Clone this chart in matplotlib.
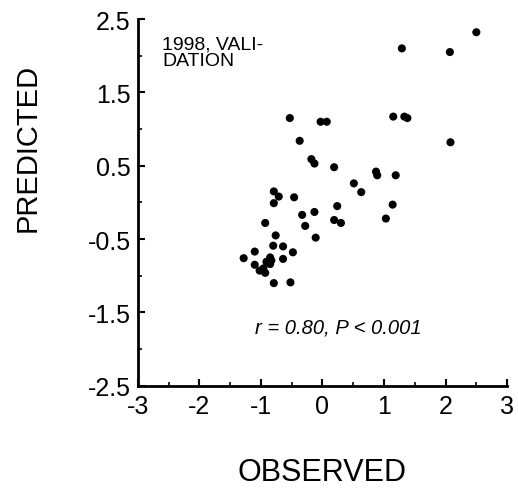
import matplotlib
matplotlib.use('Agg')
import matplotlib.pyplot as plt
from matplotlib.ticker import MultipleLocator

plt.rcParams['font.family'] = ['Liberation Sans', 'DejaVu Sans']

# observed vs predicted values, 1998 validation
observed = [2.50, 1.29, 2.07, -0.53, -0.03, 0.07, 1.15, 1.33, 1.38, -0.37,
            2.08, -0.18, -0.13, 0.19, 0.87, 0.89, 1.19, 0.51, 0.63, -0.79,
            -0.71, -0.46, -0.79, 0.24, 1.14, -0.33, -0.13, 0.19, 0.30, 1.03,
            -0.28, -0.93, -0.11, -0.76, -0.80, -0.64, -0.48, -1.10, -1.28, -0.64,
            -0.85, -0.83, -0.91, -0.85, -1.10, -1.02, -0.96, -0.93, -0.79, -0.52]
predicted = [2.32, 2.10, 2.05, 1.15, 1.10, 1.10, 1.17, 1.17, 1.15, 0.84,
             0.82, 0.59, 0.53, 0.48, 0.42, 0.37, 0.37, 0.26, 0.14, 0.15,
             0.08, 0.07, -0.01, -0.05, -0.03, -0.17, -0.13, -0.24, -0.28, -0.22,
             -0.32, -0.28, -0.48, -0.45, -0.59, -0.60, -0.68, -0.67, -0.76, -0.77,
             -0.75, -0.79, -0.81, -0.84, -0.85, -0.93, -0.90, -0.96, -1.10, -1.09]

xticks = [-3, -2, -1, 0, 1, 2, 3]
yticks = [-2.5, -1.5, -0.5, 0.5, 1.5, 2.5]

fig = plt.figure(figsize=(5.18, 4.89), dpi=100)
ax = fig.add_axes([0.266, 0.209, 0.713, 0.750])

ax.scatter(observed, predicted, s=34, color='black', edgecolors='none', zorder=3)

ax.set_xlim(-3, 3)
ax.set_ylim(-2.5, 2.5)
ax.set_xticks(xticks)
ax.set_yticks(yticks)
ax.set_xticklabels([str(v) for v in xticks])
ax.set_yticklabels([str(v) for v in yticks])
ax.xaxis.set_minor_locator(MultipleLocator(0.5))
ax.yaxis.set_minor_locator(MultipleLocator(0.5))

ax.spines['top'].set_visible(False)
ax.spines['right'].set_visible(False)
ax.spines['left'].set_linewidth(2)
ax.spines['bottom'].set_linewidth(2)
ax.tick_params(which='major', direction='in', length=5, width=1.5, labelsize=18, pad=6)
ax.tick_params(which='minor', direction='in', length=3, width=1.2)
ax.tick_params(axis='y', pad=5)

ax.text(-2.6, 2.28, '1998, VALI-\nDATION', fontsize=14, va='top', ha='left',
        linespacing=1.0)
ax.text(0.25, -1.70, 'r = 0.80, P < 0.001', fontsize=14.5, style='italic',
        ha='center', va='center')

ax.set_xlabel('OBSERVED', fontsize=22, labelpad=28)
fig.text(0.054, 0.697, 'PREDICTED', fontsize=21, rotation=90,
         ha='center', va='center')

fig.savefig('out.png', dpi=100)
